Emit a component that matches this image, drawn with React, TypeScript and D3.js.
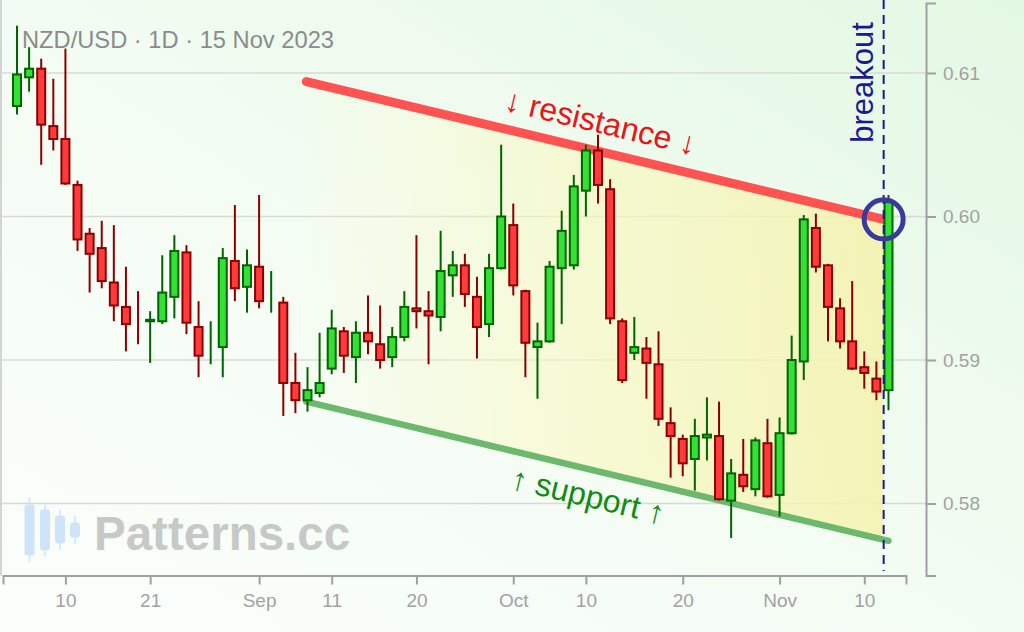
import React, { useEffect, useRef } from "react";
import * as d3 from "d3";

// ---- data ----
const dates: string[] = [
  "2023-08-04", "2023-08-07", "2023-08-08", "2023-08-09", "2023-08-10", "2023-08-11",
  "2023-08-14", "2023-08-15", "2023-08-16", "2023-08-17", "2023-08-18",
  "2023-08-21", "2023-08-22", "2023-08-23", "2023-08-24", "2023-08-25",
  "2023-08-28", "2023-08-29", "2023-08-30", "2023-08-31", "2023-09-01",
  "2023-09-04", "2023-09-05", "2023-09-06", "2023-09-07", "2023-09-08",
  "2023-09-11", "2023-09-12", "2023-09-13", "2023-09-14", "2023-09-15",
  "2023-09-18", "2023-09-19", "2023-09-20", "2023-09-21", "2023-09-22",
  "2023-09-25", "2023-09-26", "2023-09-27", "2023-09-28", "2023-09-29",
  "2023-10-02", "2023-10-03", "2023-10-04", "2023-10-05", "2023-10-06",
  "2023-10-09", "2023-10-10", "2023-10-11", "2023-10-12", "2023-10-13",
  "2023-10-16", "2023-10-17", "2023-10-18", "2023-10-19", "2023-10-20",
  "2023-10-23", "2023-10-24", "2023-10-25", "2023-10-26", "2023-10-27",
  "2023-10-30", "2023-10-31", "2023-11-01", "2023-11-02", "2023-11-03",
  "2023-11-06", "2023-11-07", "2023-11-08", "2023-11-09", "2023-11-10",
  "2023-11-13", "2023-11-14",
];

// [open, high, low, close]
const ohlc: [number, number, number, number][] = [
  [0.6077, 0.6133, 0.6071, 0.6099],
  [0.6097, 0.6118, 0.6087, 0.6103],
  [0.6103, 0.6110, 0.6036, 0.6064],
  [0.6063, 0.6096, 0.6046, 0.6054],
  [0.6054, 0.6117, 0.6022, 0.6023],
  [0.6022, 0.6025, 0.5976, 0.5984],
  [0.5988, 0.5992, 0.5947, 0.5974],
  [0.5978, 0.5997, 0.5950, 0.5955],
  [0.5954, 0.5994, 0.5927, 0.5938],
  [0.5937, 0.5965, 0.5906, 0.5925],
  [0.59251, 0.5948, 0.5911, 0.5925],
  [0.5927, 0.5934, 0.5898, 0.5928],
  [0.5927, 0.5973, 0.5925, 0.5947],
  [0.5944, 0.5987, 0.5929, 0.5976],
  [0.5975, 0.5980, 0.5918, 0.5926],
  [0.5923, 0.5941, 0.5888, 0.5903],
  [0.5904, 0.5927, 0.5897, 0.59041],
  [0.5909, 0.5978, 0.5888, 0.5971],
  [0.5969, 0.6008, 0.5941, 0.5950],
  [0.5951, 0.5977, 0.5933, 0.5966],
  [0.5965, 0.6015, 0.5936, 0.5941],
  [0.5941, 0.5962, 0.5933, 0.59411],
  [0.5940, 0.5944, 0.5861, 0.5884],
  [0.5884, 0.5905, 0.5863, 0.5872],
  [0.5872, 0.5895, 0.5864, 0.5879],
  [0.5877, 0.5919, 0.5874, 0.5884],
  [0.5894, 0.5935, 0.5890, 0.5922],
  [0.5920, 0.5923, 0.5891, 0.5903],
  [0.5902, 0.5927, 0.5884, 0.5919],
  [0.5919, 0.5945, 0.5904, 0.5913],
  [0.5911, 0.5938, 0.5894, 0.5900],
  [0.5902, 0.5923, 0.5895, 0.5916],
  [0.5916, 0.5948, 0.5913, 0.5937],
  [0.5936, 0.5987, 0.5922, 0.5934],
  [0.5934, 0.5948, 0.5897, 0.5931],
  [0.5930, 0.5990, 0.5920, 0.5962],
  [0.5959, 0.5976, 0.5944, 0.5966],
  [0.5966, 0.5974, 0.5937, 0.5946],
  [0.5944, 0.5958, 0.5901, 0.5923],
  [0.5925, 0.5974, 0.5916, 0.5964],
  [0.5964, 0.6050, 0.5963, 0.6000],
  [0.5994, 0.6009, 0.5945, 0.5952],
  [0.5948, 0.5949, 0.5888, 0.5912],
  [0.5909, 0.5926, 0.5873, 0.5913],
  [0.5913, 0.5969, 0.5912, 0.5965],
  [0.5964, 0.6004, 0.5925, 0.5990],
  [0.5966, 0.6029, 0.5963, 0.6021],
  [0.6018, 0.6050, 0.6000, 0.6046],
  [0.6046, 0.6057, 0.6009, 0.6022],
  [0.6019, 0.6026, 0.5925, 0.5929],
  [0.5927, 0.5929, 0.5884, 0.5886],
  [0.5905, 0.5930, 0.5900, 0.5909],
  [0.5908, 0.5916, 0.5873, 0.5898],
  [0.5897, 0.5920, 0.5854, 0.5859],
  [0.5856, 0.5867, 0.5818, 0.5847],
  [0.5845, 0.5848, 0.5819, 0.5828],
  [0.5831, 0.5859, 0.5809, 0.5847],
  [0.5846, 0.5874, 0.5830, 0.5848],
  [0.5847, 0.5871, 0.5802, 0.5803],
  [0.5802, 0.5831, 0.5776, 0.5821],
  [0.5820, 0.5845, 0.5808, 0.5812],
  [0.5810, 0.5846, 0.5805, 0.5844],
  [0.5842, 0.5859, 0.5804, 0.5805],
  [0.5806, 0.5860, 0.5791, 0.5849],
  [0.5849, 0.5917, 0.5848, 0.5900],
  [0.5899, 0.6001, 0.5886, 0.5998],
  [0.5992, 0.6002, 0.5961, 0.5965],
  [0.5966, 0.5967, 0.5913, 0.5937],
  [0.5936, 0.5943, 0.5908, 0.5913],
  [0.5913, 0.5955, 0.5893, 0.5894],
  [0.5895, 0.5906, 0.5880, 0.5891],
  [0.5887, 0.5899, 0.5872, 0.5878],
  [0.5879, 0.6015, 0.5865, 0.6010],
];

const xTickDates = [
  "2023-08-10", "2023-08-21", "2023-09-01", "2023-09-11", "2023-09-20",
  "2023-10-02", "2023-10-10", "2023-10-20", "2023-11-01", "2023-11-10",
];
const xTickLabels = ["10", "21", "Sep", "11", "20", "Oct", "10", "20", "Nov", "10"];
const yTicks = [0.58, 0.59, 0.6, 0.61];

// trend lines: [bar index, price]
const resistanceLine: [number, number][] = [[23.9, 0.6094], [71.6, 0.5998]];
const supportLine: [number, number][] = [[23.9, 0.5871], [72.0, 0.5774]];
const breakoutIndex = 71.6;
const breakoutPrice = 0.5998;

const title = "NZD/USD · 1D · 15 Nov 2023";
const FONT = "'Liberation Sans', Arial, Helvetica, sans-serif";

export default function App() {
  const xAxisRef = useRef<SVGGElement>(null);
  const yAxisRef = useRef<SVGGElement>(null);

  const x = d3.scaleLinear().domain([0, dates.length - 1]).range([17, 888.5]);
  const y = d3.scaleLinear().domain([0.58, 0.61]).range([503.5, 73]);
  const xAxisScale = d3.scaleLinear().domain([x.invert(3), x.invert(906)]).range([3, 906]);
  const yAxisScale = d3.scaleLinear().domain([y.invert(575.5), y.invert(3)]).range([575.5, 3]);
  const tickIdx = xTickDates.map((d) => dates.indexOf(d));

  useEffect(() => {
    if (xAxisRef.current) {
      const g = d3.select(xAxisRef.current);
      g.selectAll("*").remove();
      g.call(
        d3
          .axisBottom(xAxisScale)
          .tickValues(tickIdx)
          .tickFormat((_d, i) => xTickLabels[i])
          .tickSize(9)
          .tickSizeOuter(9)
          .tickPadding(9)
      );
      g.select(".domain").attr("stroke", "#a0a0a0").attr("stroke-width", 2);
      g.selectAll(".tick line").attr("stroke", "#a0a0a0").attr("stroke-width", 2);
      g.selectAll(".tick text")
        .attr("fill", "#a2a2a2")
        .style("font-size", "19px")
        .style("font-family", FONT);
    }
    if (yAxisRef.current) {
      const g = d3.select(yAxisRef.current);
      g.selectAll("*").remove();
      g.call(
        d3
          .axisRight(yAxisScale)
          .tickValues(yTicks)
          .tickFormat(d3.format(".2f"))
          .tickSize(10)
          .tickSizeOuter(10)
          .tickPadding(7)
      );
      g.select(".domain").attr("stroke", "#a0a0a0").attr("stroke-width", 2);
      g.selectAll(".tick line").attr("stroke", "#a0a0a0").attr("stroke-width", 2);
      g.selectAll(".tick text")
        .attr("fill", "#a2a2a2")
        .style("font-size", "19px")
        .style("font-family", FONT);
    }
  }, []);

  const rx1 = x(resistanceLine[0][0]), ry1 = y(resistanceLine[0][1]);
  const rx2 = x(resistanceLine[1][0]), ry2 = y(resistanceLine[1][1]);
  const sx1 = x(supportLine[0][0]), sy1 = y(supportLine[0][1]);
  const sx2 = x(supportLine[1][0]), sy2 = y(supportLine[1][1]);

  const supportAt = (i: number) => {
    const t = (i - supportLine[0][0]) / (supportLine[1][0] - supportLine[0][0]);
    return supportLine[0][1] + t * (supportLine[1][1] - supportLine[0][1]);
  };
  const resistanceAt = (i: number) => {
    const t = (i - resistanceLine[0][0]) / (resistanceLine[1][0] - resistanceLine[0][0]);
    return resistanceLine[0][1] + t * (resistanceLine[1][1] - resistanceLine[0][1]);
  };

  const fillPts: [number, number][] = [
    [x(resistanceLine[0][0]), y(resistanceLine[0][1])],
    [x(breakoutIndex), y(resistanceAt(breakoutIndex))],
    [x(breakoutIndex), y(supportAt(breakoutIndex))],
    [x(supportLine[0][0]), y(supportLine[0][1])],
  ];
  const fillPath = d3.line()(fillPts) + "Z";

  const rAngle = (Math.atan2(ry2 - ry1, rx2 - rx1) * 180) / Math.PI;
  const sAngle = (Math.atan2(sy2 - sy1, sx2 - sx1) * 180) / Math.PI;
  const labelX = 594;
  const labelIdx = x.invert(labelX);
  const rLabelY = y(resistanceAt(labelIdx));
  const sLabelY = y(supportAt(labelIdx));

  const bodyW = 8;

  return (
    <svg
      width={1024}
      height={632}
      style={{ position: "absolute", left: 0, top: 0, display: "block" }}
      fontFamily={FONT}
    >
      <defs>
        <linearGradient id="bg" x1="0" y1="1" x2="1" y2="0">
          <stop offset="0" stopColor="#fbfefb" />
          <stop offset="0.5" stopColor="#f3fcf3" />
          <stop offset="1" stopColor="#e3f8e3" />
        </linearGradient>
        <linearGradient
          id="chan"
          gradientUnits="userSpaceOnUse"
          x1={fillPts[0][0]}
          y1={0}
          x2={fillPts[1][0]}
          y2={0}
        >
          <stop offset="0" stopColor="#fafac8" stopOpacity={0.05} />
          <stop offset="0.45" stopColor="#f8f8c0" stopOpacity={0.6} />
          <stop offset="1" stopColor="#f4f2b0" stopOpacity={0.9} />
        </linearGradient>
      </defs>

      <rect x={0} y={0} width={1024} height={632} fill="url(#bg)" />

      {/* grid */}
      {yTicks.map((t) => (
        <line key={t} x1={0} x2={926} y1={y(t)} y2={y(t)} stroke="#d6dbd6" strokeWidth={1.5} />
      ))}
      <line x1={1} x2={1} y1={0} y2={575.5} stroke="#d2d6d2" strokeWidth={2} />

      {/* watermark */}
      <g fill="#cfe3f9" stroke="#cfe3f9">
        <line x1={29.5} x2={29.5} y1={498} y2={562} strokeWidth={1.5} />
        <rect x={25} y={505} width={9} height={50} rx={2} />
        <line x1={45} x2={45} y1={504} y2={556} strokeWidth={1.5} />
        <rect x={40.5} y={510} width={9} height={40} rx={2} />
        <line x1={60} x2={60} y1={510} y2={550} strokeWidth={1.5} />
        <rect x={55.5} y={516} width={9} height={27} rx={2} />
        <line x1={75} x2={75} y1={516} y2={544} strokeWidth={1.5} />
        <rect x={70.5} y={523} width={9} height={14} rx={2} />
      </g>
      <text x={94} y={550} fontSize={47.5} fontWeight="bold" fill="#c6c9c6">
        Patterns.cc
      </text>

      {/* channel fill */}
      <path d={fillPath} fill="url(#chan)" />

      {/* trend lines */}
      <line x1={rx1} y1={ry1} x2={rx2} y2={ry2} stroke="#ff4a4a" strokeOpacity={0.95} strokeWidth={9} strokeLinecap="round" />
      <line x1={sx1} y1={sy1} x2={sx2} y2={sy2} stroke="#6cb86c" strokeWidth={6.5} strokeLinecap="round" />

      {/* labels */}
      <g transform={`translate(${labelX},${rLabelY}) rotate(${rAngle})`}>
        <text x={0} y={-18} textAnchor="middle" fontSize={32} fill="#e8161c">
          ↓ resistance ↓
        </text>
      </g>
      <g transform={`translate(${labelX},${sLabelY}) rotate(${sAngle})`}>
        <text x={0} y={37} textAnchor="middle" fontSize={32} fill="#138c13">
          ↑ support ↑
        </text>
      </g>

      {/* candles */}
      {ohlc.map(([o, h, l, c], i) => {
        const up = c >= o;
        const cx = x(i);
        const top = y(Math.max(o, c));
        const bot = y(Math.min(o, c));
        const bh = bot - top;
        const stroke = up ? "#006400" : "#8b0000";
        const fill = up ? "#33e033" : "#ff3b3b";
        return (
          <g key={dates[i]}>
            <line x1={cx} x2={cx} y1={y(h)} y2={y(l)} stroke={stroke} strokeWidth={2} />
            {bh > 0.5 && (
              <rect x={cx - bodyW / 2} y={top} width={bodyW} height={bh} fill={fill} stroke={stroke} strokeWidth={2} />
            )}
          </g>
        );
      })}

      {/* breakout marker */}
      <line
        x1={x(breakoutIndex)}
        x2={x(breakoutIndex)}
        y1={0}
        y2={571}
        stroke="#1a1a8c"
        strokeWidth={2}
        strokeDasharray="9,6"
      />
      <circle cx={x(breakoutIndex)} cy={y(breakoutPrice)} r={19.5} fill="none" stroke="#3a3a9c" strokeWidth={5} />
      <text
        transform={`translate(873,82.5) rotate(-90)`}
        textAnchor="middle"
        fontSize={31}
        fill="#1b1b8f"
      >
        breakout
      </text>

      {/* axes */}
      <g ref={xAxisRef} transform="translate(0,575.5)" />
      <g ref={yAxisRef} transform="translate(926,0)" />

      {/* title */}
      <text x={22} y={48} fontSize={23.7} fill="#8a8c8a">
        {title}
      </text>
    </svg>
  );
}
